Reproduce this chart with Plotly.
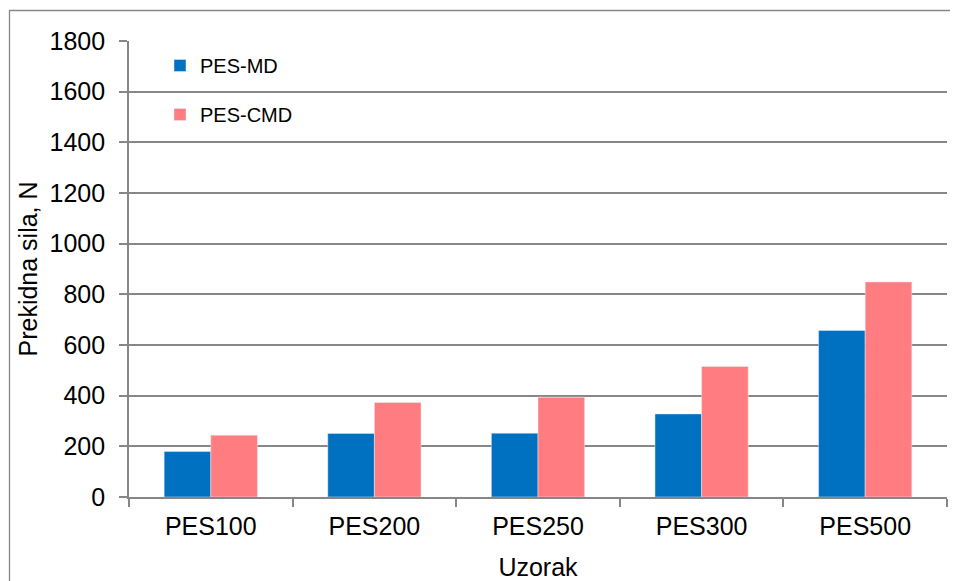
import plotly.graph_objects as go

# Prekidna sila po uzorku (N), MD i CMD smjer
uzorci = ["PES100", "PES200", "PES250", "PES300", "PES500"]
pes_md = [180, 251, 252, 328, 657]
pes_cmd = [244, 373, 394, 515, 849]

PLAVA = "#0070C0"
ROZA = "#FF7C80"
SIVA = "#868686"

fig = go.Figure()
fig.add_trace(go.Bar(x=uzorci, y=pes_md, name="PES-MD", marker_color=PLAVA,
                     legendgroup="md"))
fig.add_trace(go.Bar(x=uzorci, y=pes_cmd, name="PES-CMD", marker_color=ROZA,
                     legendgroup="cmd"))

# stranica ima 8px margine, pa je sve pomaknuto za 8
L, R, T, B = 121, 11, 33, 84
W, H = 950, 573
pw, ph = W - L - R, H - T - B

fig.update_layout(
    width=W, height=H,
    margin=dict(l=L, r=R, t=T, b=B),
    paper_bgcolor="white", plot_bgcolor="white",
    font=dict(family="Liberation Sans, Arial, sans-serif", color="black", size=25),
    barmode="group", bargap=0.43, bargroupgap=0,
    legend=dict(x=(152 - L) / pw, y=1 - (5 / ph), xanchor="left", yanchor="top",
                font=dict(size=20), tracegroupgap=20, bgcolor="rgba(0,0,0,0)"),
    shapes=[dict(type="rect", xref="paper", yref="paper",
                 x0=(1.5 - L) / pw, x1=(W + 5 - L) / pw,
                 y0=-(B + 5) / ph, y1=1 + (T - 2.5) / ph,
                 line=dict(color=SIVA, width=1.3))],
)
fig.update_yaxes(
    range=[0, 1800], dtick=200, showgrid=True, gridcolor=SIVA, gridwidth=1.7,
    showline=True, linecolor=SIVA, linewidth=1.7, ticks="outside", ticklen=8,
    tickcolor=SIVA, tickwidth=1.5, ticklabelstandoff=9, zeroline=False,
    automargin=False,
    title=dict(text="Prekidna sila, N", font=dict(size=25), standoff=5),
)
fig.update_xaxes(
    showline=True, linecolor=SIVA, linewidth=1.7, ticks="outside", ticklen=8,
    tickcolor=SIVA, tickwidth=1.5, tickson="boundaries", ticklabelstandoff=6,
    automargin=False,
    title=dict(text="Uzorak", font=dict(size=25), standoff=20),
)

fig.write_html("out.html")
